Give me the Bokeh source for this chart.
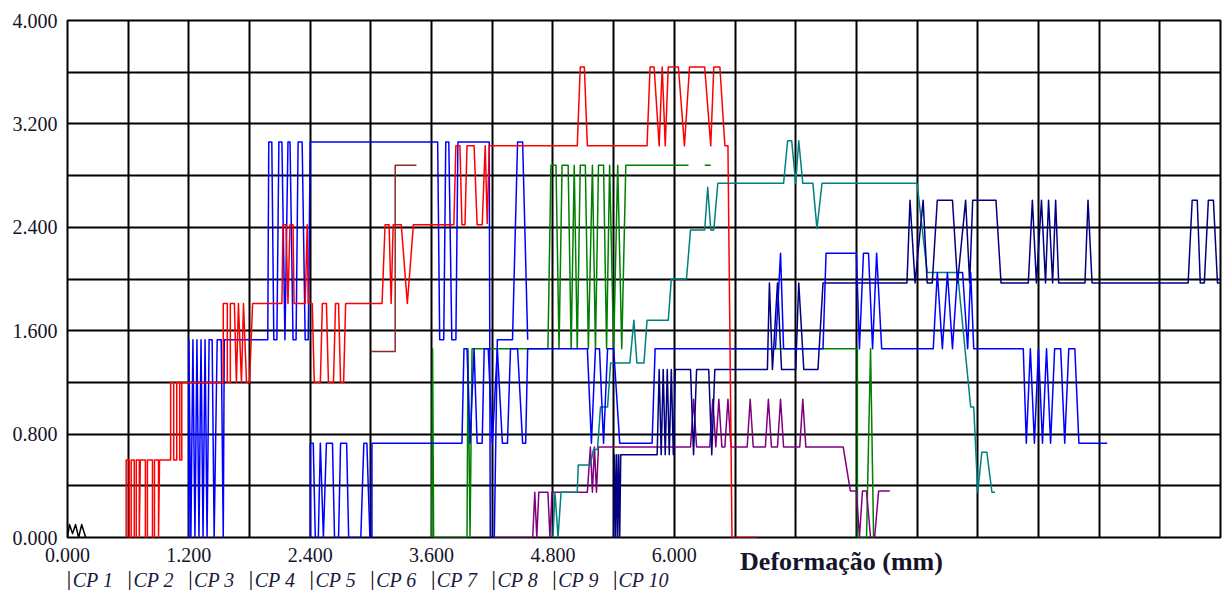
from bokeh.plotting import figure
from bokeh.models import FixedTicker, CustomJSTickFormatter, LinearAxis
from bokeh.embed import file_html
from bokeh.resources import INLINE

nan = float("nan")

# ---- data (Deformação in mm, load in the chart's 0-4.000 scale) ----
cp1_x = [0.0, 0.02, 0.05, 0.08, 0.11, 0.14, 0.18]
cp1_y = [0.0, 0.10, 0.03, 0.10, 0.0, 0.10, 0.0]

cp2_x = [0.58, 0.58, 0.61, 0.61, 0.63, 0.63, 0.66, 0.66, 0.68, 0.68, 0.71, 0.71, 0.72, 0.77, 0.77, 0.79, 0.79,
         0.84, 0.84, 0.86, 0.86, 0.90, 0.90, 0.91, 1.02, 1.02, 1.05, 1.05, 1.08, 1.08, 1.11, 1.11, 1.13, 1.13,
         1.54, 1.54, 1.58, 1.58, 1.61, 1.61, 1.65, 1.67, 1.69, 1.72, 1.74, 1.77, 1.80, 1.83, 2.12, 2.13, 2.16,
         2.18, 2.20, 2.23, 2.24, 2.35, 2.37, 2.38, 2.42, 2.44, 2.50, 2.52, 2.56, 2.58, 2.63, 2.65, 2.68, 2.70,
         2.73, 2.75, 3.11, 3.14, 3.18, 3.20, 3.22, 3.30, 3.36, 3.42, 3.82, 3.84, 3.88, 3.90, 3.93, 3.95, 4.02,
         4.05, 4.10, 4.13, 4.15, 4.17, 5.04, 5.07, 5.11, 5.14, 5.73, 5.76, 5.80, 5.85, 5.88, 5.91, 5.94, 6.04,
         6.10, 6.15, 6.30, 6.36, 6.39, 6.45, 6.50, 6.53, 6.57, 6.82]
cp2_y = [0.0, 0.60, 0.60, 0.0, 0.0, 0.60, 0.60, 0.0, 0.0, 0.60, 0.60, 0.0, 0.60, 0.60, 0.0, 0.0, 0.60,
         0.60, 0.0, 0.0, 0.60, 0.60, 0.0, 0.60, 0.60, 1.20, 1.20, 0.60, 0.60, 1.20, 1.20, 0.60, 0.60, 1.20,
         1.20, 1.81, 1.81, 1.20, 1.20, 1.81, 1.81, 1.20, 1.81, 1.20, 1.81, 1.20, 1.20, 1.81, 1.81, 2.42, 2.42,
         1.81, 2.42, 2.42, 1.81, 1.81, 2.42, 1.81, 1.81, 1.20, 1.20, 1.81, 1.81, 1.20, 1.20, 1.81, 1.81, 1.20,
         1.20, 1.81, 1.81, 2.42, 2.42, 1.81, 2.42, 2.42, 1.81, 2.42, 2.42, 3.03, 3.03, 2.42, 2.42, 3.03, 3.03,
         2.42, 2.42, 3.03, 2.43, 3.03, 3.03, 3.64, 3.64, 3.03, 3.03, 3.64, 3.64, 3.03, 3.64, 3.03, 3.64, 3.64,
         3.03, 3.64, 3.64, 3.03, 3.64, 3.64, 3.03, 3.03, 0.0, 0.0]

cp3_x = [1.20, 1.20, 1.22, 1.24, 1.26, 1.28, 1.30, 1.32, 1.34, 1.36, 1.38, 1.40, 1.43, 1.45, 1.48, 1.52, 1.54,
         1.55, 1.98, 1.99, 2.02, 2.04, 2.07, 2.09, 2.12, 2.15, 2.18, 2.20, 2.23, 2.26, 2.28, 2.32, 2.35, 2.38,
         2.40, 3.66, 3.68, 3.72, 3.74, 3.77, 3.80, 3.84, 3.86, 4.17, 4.18, 4.22, 4.25, 4.40, 4.45, 4.50, 4.55]
cp3_y = [0.0, 1.53, 0.0, 1.53, 0.0, 1.53, 0.0, 1.53, 0.0, 1.53, 0.0, 1.53, 1.53, 0.0, 1.53, 1.53, 0.0,
         1.53, 1.53, 3.06, 3.06, 1.53, 1.53, 3.06, 3.06, 1.53, 3.06, 3.06, 1.53, 1.53, 3.06, 3.06, 1.53, 1.53,
         3.06, 3.06, 1.53, 1.53, 3.06, 3.06, 1.53, 1.53, 3.06, 3.06, 0.0, 0.0, 1.53, 1.53, 3.06, 3.06, 1.53]

cp4_x = [3.00, 3.24, 3.24, 3.45]
cp4_y = [1.44, 1.44, 2.88, 2.88]

cp5_x = [2.40, 2.40, 2.43, 2.45, 2.48, 2.50, 2.53, 2.56, 2.62, 2.64, 2.68, 2.70, 2.76, 2.78, 2.90, 2.93, 2.96,
         2.99, 3.01, 3.01, 3.90, 3.92, 3.95, 3.98, 4.02, 4.05, 4.10, 4.12, 4.16, 4.20, 4.25, 4.30, 4.35, 4.38,
         4.45, 4.50, 4.53, 4.55, 5.14, 5.18, 5.22, 5.26, 5.30, 5.34, 5.40, 5.46, 5.78, 5.81, 7.00, 7.05, 7.08,
         7.47, 7.50, 7.80, 7.83, 7.87, 7.92, 7.96, 8.00, 8.05, 8.56, 8.60, 8.65, 8.70, 8.75, 8.80, 8.85, 8.90,
         8.93, 8.96, 9.45, 9.48, 9.52, 9.56, 9.60, 9.64, 9.68, 9.72, 9.76, 9.82, 9.86, 9.90, 9.96, 10.00, 10.28]
cp5_y = [0.0, 0.73, 0.73, 0.0, 0.0, 0.73, 0.0, 0.73, 0.73, 0.0, 0.0, 0.73, 0.73, 0.0, 0.0, 0.73, 0.73,
         0.0, 0.0, 0.73, 0.73, 1.46, 1.46, 0.73, 1.46, 0.73, 0.73, 1.46, 1.46, 0.73, 1.46, 0.73, 0.73, 1.46,
         1.46, 0.73, 0.73, 1.46, 1.46, 0.73, 1.46, 1.46, 0.73, 1.46, 1.46, 0.73, 0.73, 1.46, 1.46, 2.20, 1.46,
         1.46, 2.20, 2.20, 1.46, 2.20, 2.20, 1.46, 2.20, 1.46, 1.46, 2.05, 1.46, 2.05, 1.46, 2.05, 2.05, 1.46,
         2.05, 1.46, 1.46, 0.73, 1.46, 0.73, 1.46, 0.73, 1.46, 0.73, 1.46, 1.46, 0.73, 1.46, 1.46, 0.73, 0.73]

cp6_x = [3.60, 3.61, 3.62, 3.95, 3.96, 3.98, 4.00, 4.75, 4.78, 4.83, 4.86, 4.89, 4.95, 4.98, 5.01, 5.04, 5.07,
         5.12, 5.15, 5.19, 5.22, 5.25, 5.30, 5.33, 5.36, 5.40, 5.44, 5.48, 5.52, 6.14, nan, 6.30, 6.36, nan,
         6.56, 7.81, 7.81, 7.90, 7.94, 7.97]
cp6_y = [0.0, 1.46, 0.0, 0.0, 1.46, 0.0, 1.46, 1.46, 2.88, 2.88, 1.46, 2.88, 2.88, 1.46, 2.88, 1.46, 2.88,
         2.88, 1.46, 2.88, 1.46, 2.88, 2.88, 1.46, 2.88, 1.46, 2.88, 1.46, 2.88, 2.88, nan, 2.88, 2.88, nan,
         1.46, 1.46, 0.0, 0.0, 1.46, 0.0]

cp7_x = [4.21, 4.60, 4.62, 4.64, 4.66, 4.75, 4.77, 4.79, 5.14, 5.17, 5.19, 5.21, 5.23, 5.25, 6.16, 6.19, 6.22,
         6.35, 6.38, 6.41, 6.44, 6.47, 6.50, 6.53, 6.56, 6.72, 6.75, 6.78, 6.90, 6.93, 6.96, 7.02, 7.05, 7.08,
         7.24, 7.27, 7.30, 7.67, 7.74, 7.80, 7.83, 7.86, 7.90, 7.94, 7.98, 8.02, 8.13]
cp7_y = [0.0, 0.0, 0.35, 0.0, 0.35, 0.35, 0.0, 0.35, 0.35, 0.70, 0.35, 0.70, 0.35, 0.70, 0.70, 1.07, 0.70,
         0.70, 1.07, 0.70, 1.07, 0.70, 0.70, 1.07, 0.70, 0.70, 1.07, 0.70, 0.70, 1.07, 0.70, 0.70, 1.07, 0.70,
         0.70, 1.07, 0.70, 0.70, 0.36, 0.36, 0.0, 0.36, 0.36, 0.0, 0.0, 0.36, 0.36]

cp8_x = [4.80, 4.82, 4.85, 4.88, 5.04, 5.05, 5.17, 5.20, 5.24, 5.27, 5.34, 5.37, 5.56, 5.60, 5.63, 5.70, 5.73,
         5.94, 5.97, 6.12, 6.16, 6.30, 6.33, 6.36, 6.39, 6.43, 7.08, 7.12, 7.16, 7.20, 7.23, 7.27, 7.37, 7.41,
         7.46, 8.40, 8.50, 8.80, 8.93, 8.96, 9.00, 9.04, 9.09, 9.14, 9.17]
cp8_y = [0.0, 0.35, 0.0, 0.35, 0.35, 0.56, 0.56, 0.68, 0.68, 1.01, 1.01, 1.35, 1.35, 1.68, 1.35, 1.35, 1.68,
         1.68, 2.00, 2.00, 2.38, 2.38, 2.71, 2.38, 2.38, 2.74, 2.74, 3.07, 3.07, 2.74, 3.07, 2.74, 2.74, 2.39,
         2.74, 2.74, 2.05, 2.05, 1.01, 1.01, 0.35, 0.66, 0.66, 0.35, 0.35]

cp9_x = [5.40, 5.41, 5.42, 5.43, 5.44, 5.45, 5.46, 5.47, 5.83, 5.85, 5.87, 5.89, 5.91, 5.93, 5.95, 5.97, 5.99,
         6.01, 6.16, 6.19, 6.22, 6.34, 6.37, 6.40, 6.92, 6.94, 6.97, 7.02, 7.06, 7.20, 7.23, 7.28, 7.42, 7.47,
         8.30, 8.33, 8.38, 8.46, 8.50, 8.55, 8.60, 8.75, 8.80, 8.88, 8.92, 8.95, 9.18, 9.23, 9.50, 9.54, 9.58,
         9.63, 9.67, 9.70, 9.74, 9.77, 9.80, 10.06, 10.09, 10.13, 11.08, 11.12, 11.17, 11.20, 11.24, 11.28,
         11.33, 11.37, 11.40]
cp9_y = [0.0, 0.64, 0.0, 0.64, 0.0, 0.64, 0.0, 0.64, 0.64, 1.30, 0.64, 1.30, 0.64, 1.30, 0.64, 1.30, 0.64,
         1.30, 1.30, 0.64, 1.30, 1.30, 0.64, 1.30, 1.30, 1.97, 1.30, 1.97, 1.30, 1.30, 1.97, 1.30, 1.30, 1.97,
         1.97, 2.61, 1.97, 2.61, 1.97, 1.97, 2.61, 2.61, 1.97, 2.61, 1.97, 2.61, 2.61, 1.97, 1.97, 2.61, 1.97,
         2.61, 1.97, 2.61, 1.97, 2.61, 1.97, 1.97, 2.61, 1.97, 1.97, 2.61, 2.61, 1.97, 1.97, 2.61,
         2.61, 1.97, 1.97]

legend_labels = ["CP 1", "CP 2", "CP 3", "CP 4", "CP 5", "CP 6", "CP 7", "CP 8", "CP 9", "CP 10"]
x_ticks = [0.0, 1.2, 2.4, 3.6, 4.8, 6.0]
y_ticks = [0.0, 0.8, 1.6, 2.4, 3.2, 4.0]
x_title = "Deformação (mm)"

PX = 1153 / 11.4  # pixels per mm in the frame

# ---- figure ----
p = figure(width=1230, height=593, x_range=(0, 11.4), y_range=(0, 4.0),
           output_backend="svg", toolbar_location=None,
           min_border_left=67, min_border_right=10, min_border_top=20, min_border_bottom=55)
p.background_fill_color = "white"
p.border_fill_color = "white"
p.outline_line_color = "black"
p.outline_line_width = 2

p.xgrid.ticker = FixedTicker(ticks=[round(0.6 * k, 4) for k in range(20)])
p.ygrid.ticker = FixedTicker(ticks=[round(0.4 * k, 4) for k in range(11)])
for g in (p.xgrid, p.ygrid):
    g.grid_line_color = "black"
    g.grid_line_width = 2
    g.grid_line_alpha = 1.0


def style_axis(ax, size, style="normal", standoff=10):
    ax.axis_line_color = None
    ax.major_tick_line_color = None
    ax.minor_tick_line_color = None
    ax.major_tick_out = 0
    ax.major_tick_in = 0
    ax.minor_tick_out = 0
    ax.minor_tick_in = 0
    ax.major_label_text_font = "Liberation Serif"
    ax.major_label_text_font_size = size
    ax.major_label_text_font_style = style
    ax.major_label_text_color = "#14142a"
    ax.major_label_standoff = standoff


fmt = CustomJSTickFormatter(code="return tick.toFixed(3);")
p.xaxis.ticker = FixedTicker(ticks=x_ticks)
p.yaxis.ticker = FixedTicker(ticks=y_ticks)
for ax in (p.xaxis, p.yaxis):
    ax.formatter = fmt
    style_axis(ax, "20px", standoff=10)

# x-axis title, drawn as the single label of an extra axis
title_axis = LinearAxis(ticker=FixedTicker(ticks=[(737 - 67 + 104) / PX]),
                        formatter=CustomJSTickFormatter(args=dict(t=x_title), code="return t;"))
style_axis(title_axis, "26px", "bold", standoff=-18)
p.add_layout(title_axis, "below")

# legend row: bars and italic names
bar_axis = LinearAxis(ticker=FixedTicker(ticks=[round(0.6 * k, 4) + 1.5 / PX for k in range(10)]),
                      formatter=CustomJSTickFormatter(code="return '|';"))
style_axis(bar_axis, "22px", standoff=-14)
bar_axis.major_label_text_color = "#000000"
p.add_layout(bar_axis, "below")

name_ticks = [0.6 * k + (5 + (41 if k < 9 else 50) / 2) / PX for k in range(10)]
name_axis = LinearAxis(ticker=FixedTicker(ticks=name_ticks),
                       formatter=CustomJSTickFormatter(args=dict(labs=legend_labels, pos=name_ticks),
                                                       code="let i = 0; let d = 1e9;"
                                                            "for (let j = 0; j < pos.length; j++) {"
                                                            " const e = Math.abs(pos[j] - tick);"
                                                            " if (e < d) { d = e; i = j; } }"
                                                            "return labs[i];"))
style_axis(name_axis, "20px", "italic", standoff=-24)
name_axis.major_label_text_color = "#1a1a40"
p.add_layout(name_axis, "below")

series = [
    (cp1_x, cp1_y, "#000000"),
    (cp6_x, cp6_y, "#008000"),
    (cp3_x, cp3_y, "#0000ff"),
    (cp4_x, cp4_y, "#8b2a2a"),
    (cp7_x, cp7_y, "#800080"),
    (cp8_x, cp8_y, "#008080"),
    (cp9_x, cp9_y, "#000080"),
    (cp5_x, cp5_y, "#0000ff"),
    (cp2_x, cp2_y, "#ff0000"),
]
for xs, ys, c in series:
    p.line(xs, ys, line_color=c, line_width=1.5, line_join="round")

open("out.html", "w").write(file_html(p, INLINE))
